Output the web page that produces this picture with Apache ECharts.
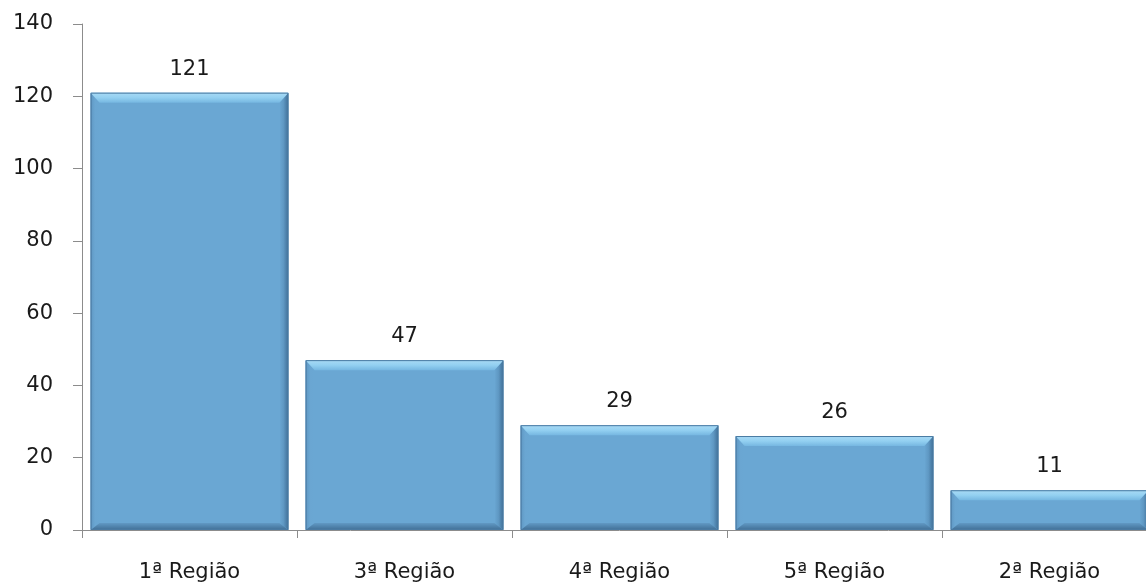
<!DOCTYPE html>
<html>
<head>
<meta charset="utf-8">
<script src="https://cdn.jsdelivr.net/npm/echarts@6/dist/echarts.min.js"></script>
<style>
  html, body { margin: 0; padding: 0; background: #ffffff; overflow: hidden; }
  /* the plot runs a little past the right edge of the window */
  #chart { width: 1157px; height: 583px; }
</style>
</head>
<body>
<div id="chart"></div>
<script>
// Regions and their counts
const categories = ['1ª Região', '3ª Região', '4ª Região', '5ª Região', '2ª Região'];
const counts = [121, 47, 29, 26, 11];
const yTicks = { min: 0, max: 140, interval: 20 };

const FONT = '"DejaVu Sans", "Open Sans", sans-serif';

// Bevelled bar: flat body plus four edge facets and a value label above
function renderBevelBar(params, api) {
  const idx = api.value(0);
  const val = api.value(1);
  const top = api.coord([idx, val]);
  const base = api.coord([idx, 0]);
  const w = api.size([1, 0])[0] * 0.92;
  const x0 = top[0] - w / 2, x1 = top[0] + w / 2;
  const y0 = top[1], y1 = base[1];
  const b = 10, s = 9;
  return {
    type: 'group',
    children: [
      { type: 'rect', shape: { x: x0, y: y0, width: w, height: y1 - y0 },
        style: { fill: '#6aa7d3' } },
      { type: 'polygon', shape: { points: [[x0, y0], [x0 + s, y0 + b], [x0 + s, y1 - 7], [x0, y1]] },
        style: { fill: new echarts.graphic.LinearGradient(0, 0, 1, 0, [
          { offset: 0, color: '#5f97c2' }, { offset: 0.5, color: '#6aa6d2' }, { offset: 1, color: '#6aa7d3' }]) } },
      { type: 'polygon', shape: { points: [[x1, y0], [x1, y1], [x1 - s, y1 - 7], [x1 - s, y0 + b]] },
        style: { fill: new echarts.graphic.LinearGradient(0, 0, 1, 0, [
          { offset: 0, color: '#6aa7d3' }, { offset: 0.45, color: '#5f98c3' }, { offset: 1, color: '#3f6f97' }]) } },
      { type: 'polygon', shape: { points: [[x0, y1], [x0 + s, y1 - 7], [x1 - s, y1 - 7], [x1, y1]] },
        style: { fill: new echarts.graphic.LinearGradient(0, 0, 0, 1, [
          { offset: 0, color: '#6199c4' }, { offset: 1, color: '#406f96' }]) } },
      { type: 'polygon', shape: { points: [[x0, y0], [x1, y0], [x1 - s, y0 + b], [x0 + s, y0 + b]] },
        style: { fill: new echarts.graphic.LinearGradient(0, 0, 0, 1, [
          { offset: 0, color: '#a9daf5' }, { offset: 0.5, color: '#93d0f1' }, { offset: 1, color: '#76b7e1' }]) } },
      { type: 'rect', shape: { x: x0 + 0.5, y: y0 + 0.5, width: w - 1, height: y1 - y0 - 1 },
        style: { fill: null, stroke: '#4a7aa2', lineWidth: 1 } },
      { type: 'text', style: { text: String(val), x: top[0], y: y0 - 13,
        align: 'center', verticalAlign: 'bottom', fill: '#1a1a1a', font: '21px ' + FONT } }
    ]
  };
}

const chart = echarts.init(document.getElementById('chart'), null, { renderer: 'canvas' });
chart.setOption({
  animation: false,
  backgroundColor: '#ffffff',
  grid: { left: 82, right: 0, top: 24, bottom: 52, containLabel: false },
  xAxis: {
    type: 'category',
    data: categories,
    boundaryGap: true,
    axisLine: { lineStyle: { color: '#8c8c8c', width: 1 } },
    axisTick: { show: true, length: 8, alignWithLabel: false, lineStyle: { color: '#8c8c8c' } },
    axisLabel: { color: '#1a1a1a', fontFamily: FONT, fontSize: 21, margin: 32 }
  },
  yAxis: {
    type: 'value',
    min: yTicks.min, max: yTicks.max, interval: yTicks.interval,
    axisLine: { show: true, lineStyle: { color: '#8c8c8c', width: 1 } },
    axisTick: { show: true, length: 9, lineStyle: { color: '#8c8c8c' } },
    splitLine: { show: false },
    axisLabel: { color: '#1a1a1a', fontFamily: FONT, fontSize: 21, margin: 29 }
  },
  series: [{
    type: 'custom',
    renderItem: renderBevelBar,
    encode: { x: 0, y: 1 },
    data: counts.map((v, i) => [i, v]),
    clip: false
  }]
});
</script>
</body>
</html>
